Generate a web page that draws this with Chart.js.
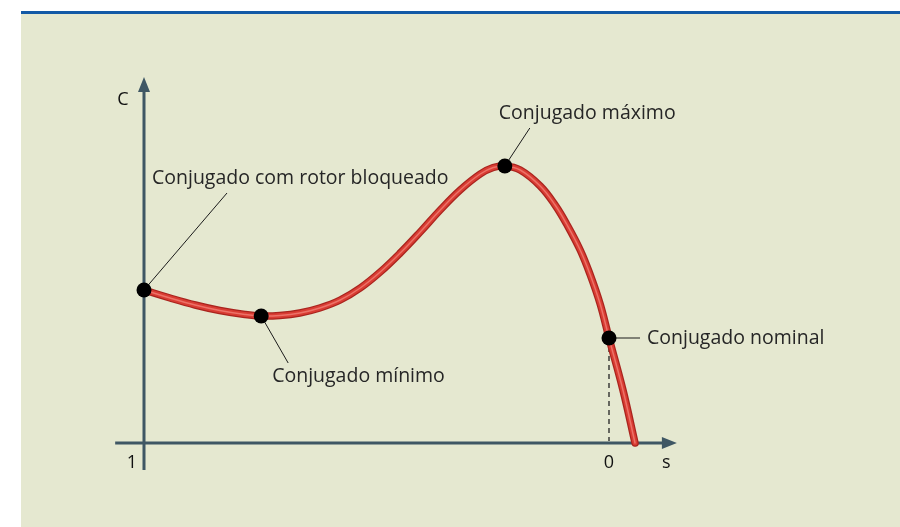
<!DOCTYPE html>
<html>
<head>
<meta charset="utf-8">
<script src="https://cdn.jsdelivr.net/npm/chart.js@4"></script>
<style>
  html, body { margin: 0; padding: 0; background: #fff; }
  .frame { position: relative; width: 900px; height: 527px; overflow: hidden; }
  .panel {
    position: absolute; left: 21px; top: 11px; right: 0; bottom: 0;
    background: #e5e8d0; border-top: 3px solid #1259a6;
  }
  canvas { position: absolute; left: 0; top: 0; }
</style>
</head>
<body>
<div class="frame">
  <div class="panel"></div>
  <canvas id="chart" width="900" height="527"></canvas>
</div>
<script>
// slip s (1 = rotor locked, 0 = synchronous) and torque C
const curveS = [1.0, 0.944, 0.89, 0.837, 0.783, 0.748, 0.708, 0.665, 0.622, 0.578,
  0.535, 0.492, 0.449, 0.406, 0.363, 0.32, 0.277, 0.249, 0.224, 0.191,
  0.148, 0.116, 0.09, 0.062, 0.041, 0.019, 0.0, -0.03, -0.056];
const curveC = [1.53, 1.45, 1.38, 1.325, 1.285, 1.27, 1.275, 1.30, 1.35, 1.43,
  1.55, 1.71, 1.90, 2.11, 2.33, 2.53, 2.69, 2.755, 2.77, 2.73,
  2.57, 2.38, 2.18, 1.93, 1.69, 1.39, 1.05, 0.53, 0.0];

// marked points on the curve
const markNames = ['Conjugado com rotor bloqueado', 'Conjugado mínimo', 'Conjugado máximo', 'Conjugado nominal'];
const markS = [1.0, 0.748, 0.224, 0.0];
const markC = [1.53, 1.27, 2.77, 1.05];

// axis ticks
const tickLabels = ['1', '0'];
const tickS = [1, 0];
const axisNameX = 's';
const axisNameY = 'C';

// label placement relative to each marked point (pixels)
const leaderEnds = [[83, -97], [27, 47], [25, -38], [31, 0]];
const textOffsets = [[8, -112], [11, 60], [-6, -53], [38, 0]];

const curve = curveS.map((s, i) => ({ x: s, y: curveC[i] }));
const marks = markS.map((s, i) => ({ x: s, y: markC[i] }));

const AXIS = '#3f5764';
const FONT = '"Open Sans", "Noto Sans", sans-serif';

const drawingPlugin = {
  id: 'drawing',
  beforeDatasetsDraw(chart) {
    const { ctx, scales: { x, y } } = chart;
    const x0 = x.getPixelForValue(1);
    const y0 = y.getPixelForValue(0);
    const xEnd = x.getPixelForValue(-0.146);
    const yTop = y.getPixelForValue(3.66);
    ctx.save();
    ctx.strokeStyle = AXIS;
    ctx.fillStyle = AXIS;
    ctx.lineWidth = 3;
    ctx.beginPath();
    ctx.moveTo(x.getPixelForValue(1.062), y0);
    ctx.lineTo(xEnd - 10, y0);
    ctx.moveTo(x0, y.getPixelForValue(-0.27));
    ctx.lineTo(x0, yTop + 10);
    ctx.stroke();
    ctx.beginPath();
    ctx.moveTo(xEnd, y0);
    ctx.lineTo(xEnd - 15, y0 - 6);
    ctx.lineTo(xEnd - 15, y0 + 6);
    ctx.closePath();
    ctx.moveTo(x0, yTop);
    ctx.lineTo(x0 - 6, yTop + 15);
    ctx.lineTo(x0 + 6, yTop + 15);
    ctx.closePath();
    ctx.fill();

    // dashed drop line from nominal point
    const nx = x.getPixelForValue(markS[3]);
    ctx.strokeStyle = '#222';
    ctx.lineWidth = 1.3;
    ctx.setLineDash([5, 4]);
    ctx.beginPath();
    ctx.moveTo(nx, y.getPixelForValue(markC[3]));
    ctx.lineTo(nx, y0 - 2);
    ctx.stroke();
    ctx.setLineDash([]);

    // leader lines
    ctx.strokeStyle = '#1a1a1a';
    ctx.lineWidth = 1;
    marks.forEach((m, i) => {
      const px = x.getPixelForValue(m.x);
      const py = y.getPixelForValue(m.y);
      ctx.beginPath();
      ctx.moveTo(px, py);
      ctx.lineTo(px + leaderEnds[i][0], py + leaderEnds[i][1]);
      ctx.stroke();
    });
    ctx.restore();
  },
  afterDatasetsDraw(chart) {
    const { ctx, scales: { x, y } } = chart;
    const x0 = x.getPixelForValue(1);
    const y0 = y.getPixelForValue(0);
    ctx.save();
    ctx.fillStyle = '#262626';
    ctx.textBaseline = 'middle';
    ctx.textAlign = 'left';
    ctx.font = '19.5px ' + FONT;
    marks.forEach((m, i) => {
      const px = x.getPixelForValue(m.x);
      const py = y.getPixelForValue(m.y);
      ctx.fillText(markNames[i], px + textOffsets[i][0], py + textOffsets[i][1]);
    });
    ctx.fillStyle = '#111';
    ctx.font = '18px ' + FONT;
    ctx.textAlign = 'center';
    tickLabels.forEach((t, i) => {
      const off = tickS[i] === 1 ? -12 : 0;
      ctx.fillText(t, x.getPixelForValue(tickS[i]) + off, y0 + 20);
    });
    ctx.fillText(axisNameX, x.getPixelForValue(-0.123), y0 + 20);
    ctx.fillText(axisNameY, x0 - 21, y.getPixelForValue(3.43));
    ctx.restore();
  }
};

const lineLayer = (color, width, order) => ({
  data: curve,
  borderColor: color,
  borderWidth: width,
  pointRadius: 0,
  tension: 0.4,
  borderCapStyle: 'round',
  borderJoinStyle: 'round',
  fill: false,
  clip: false,
  order
});

new Chart(document.getElementById('chart'), {
  type: 'line',
  data: {
    datasets: [
      {
        data: marks,
        showLine: false,
        pointRadius: 7.5,
        pointBackgroundColor: '#000',
        pointBorderWidth: 0,
        clip: false,
        order: 0
      },
      lineLayer('#ec7268', 1.5, 1),
      lineLayer('#d93c33', 5, 2),
      lineLayer('#a9241e', 7.5, 3)
    ]
  },
  options: {
    responsive: false,
    animation: false,
    events: [],
    layout: { autoPadding: false, padding: { left: 97.5, right: 198, top: 63, bottom: 44 } },
    plugins: { legend: { display: false }, tooltip: { enabled: false } },
    scales: {
      x: { type: 'linear', reverse: true, min: -0.2, max: 1.1, display: false },
      y: { type: 'linear', min: -0.4, max: 3.8, display: false }
    }
  },
  plugins: [drawingPlugin]
});
</script>
</body>
</html>
